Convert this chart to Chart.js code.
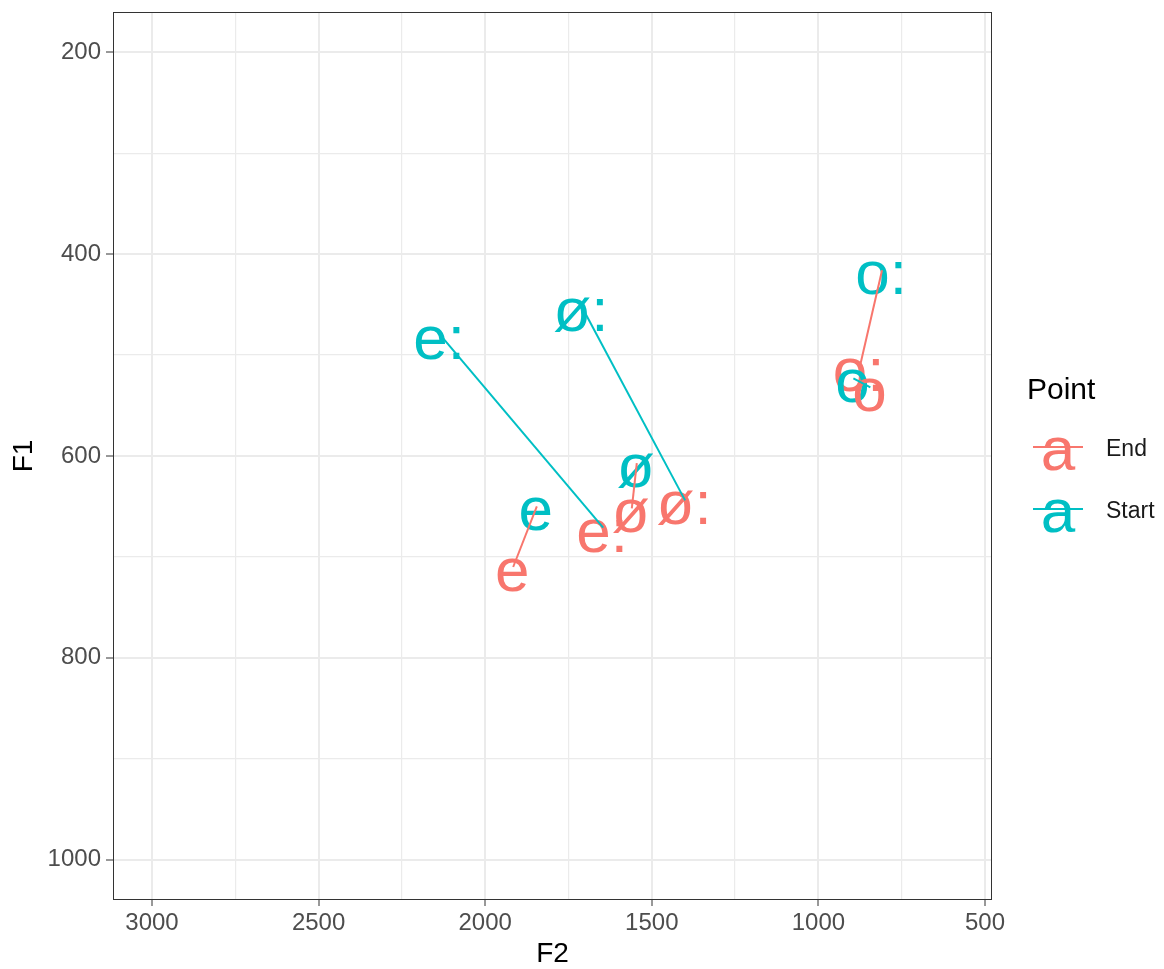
<!DOCTYPE html>
<html>
<head>
<meta charset="utf-8">
<script src="https://cdn.jsdelivr.net/npm/chart.js@4.4.1/dist/chart.umd.min.js"></script>
<style>
  html, body { margin: 0; padding: 0; background: #fff; }
  #wrap { width: 1164px; height: 969px; }
</style>
</head>
<body>
<div id="wrap"><canvas id="formants"></canvas></div>
<script>
// vowel formant trajectories, F2 on x and F1 on y (both axes reversed)
var vowels = ['e:', 'ø:', 'o:', 'e', 'ø', 'o'];
var startF2 = [2135, 1710, 809, 1845, 1545, 895];
var startF1 = [480, 452, 416, 650, 607, 523];
var endF2 = [1646, 1400, 876, 1916, 1560, 844];
var endF1 = [671, 644, 512, 710, 652, 532];
// which point comes first in each path (segment takes its colour)
var pathFirst = ['Start', 'Start', 'End', 'End', 'End', 'Start'];

var pointGroups = ['End', 'Start'];
var f2Breaks = [3000, 2500, 2000, 1500, 1000, 500];
var f2Minor = [2750, 2250, 1750, 1250, 750];
var f1Breaks = [200, 400, 600, 800, 1000];
var f1Minor = [300, 500, 700, 900];
var f2Limits = [479, 3117];
var f1Limits = [160, 1040];

var groupColours = { End: '#F8766D', Start: '#00BFC4' };
var FONT = '"Liberation Sans", Arial, sans-serif';
var labelSize = 62;

var datasets = vowels.map(function (v, i) {
  var s = { x: startF2[i], y: startF1[i], point: 'Start', label: v };
  var e = { x: endF2[i], y: endF1[i], point: 'End', label: v };
  return {
    label: v,
    data: pathFirst[i] === 'Start' ? [s, e] : [e, s],
    showLine: true,
    borderColor: groupColours[pathFirst[i]],
    borderWidth: 2,
    pointRadius: 0,
    pointHoverRadius: 0
  };
});

function allTicks(major, minor) {
  return major.concat(minor).sort(function (a, b) { return a - b; });
}

// text labels go under the paths, like geom_text before geom_path
var vowelLabels = {
  id: 'vowelLabels',
  beforeDatasetsDraw: function (chart) {
    var ctx = chart.ctx;
    ctx.save();
    ctx.font = labelSize + 'px ' + FONT;
    ctx.textAlign = 'center';
    ctx.textBaseline = 'alphabetic';
    chart.data.datasets.forEach(function (ds, i) {
      var meta = chart.getDatasetMeta(i);
      meta.data.forEach(function (pt, j) {
        var d = ds.data[j];
        ctx.fillStyle = groupColours[d.point];
        ctx.fillText(d.label, pt.x - 1, pt.y + 24);
      });
    });
    ctx.restore();
  }
};

var panelAndLegend = {
  id: 'panelAndLegend',
  afterDraw: function (chart) {
    var ctx = chart.ctx;
    var a = chart.chartArea;
    ctx.save();
    ctx.strokeStyle = '#333333';
    ctx.lineWidth = 1;
    ctx.strokeRect(a.left + 0.5, a.top + 0.5, a.right - a.left - 1, a.bottom - a.top - 1);

    // legend
    ctx.fillStyle = '#000';
    ctx.font = '30px ' + FONT;
    ctx.textAlign = 'left';
    ctx.textBaseline = 'middle';
    ctx.fillText('Point', 1027, 391);
    pointGroups.forEach(function (g, k) {
      var cy = 447 + k * 62;
      ctx.fillStyle = groupColours[g];
      ctx.font = labelSize + 'px ' + FONT;
      ctx.textAlign = 'center';
      ctx.textBaseline = 'alphabetic';
      ctx.fillText('a', 1058, cy + 23);
      ctx.strokeStyle = groupColours[g];
      ctx.lineWidth = 2;
      ctx.beginPath();
      ctx.moveTo(1033, cy);
      ctx.lineTo(1083, cy);
      ctx.stroke();
      ctx.fillStyle = '#1a1a1a';
      ctx.font = '23px ' + FONT;
      ctx.textAlign = 'left';
      ctx.textBaseline = 'middle';
      ctx.fillText(g, 1106, cy + 3);
    });
    ctx.restore();
  }
};

new Chart(document.getElementById('formants'), {
  type: 'scatter',
  data: { datasets: datasets },
  plugins: [vowelLabels, panelAndLegend],
  options: {
    responsive: true,
    maintainAspectRatio: false,
    animation: false,
    events: [],
    layout: { padding: { top: 12, right: 172, bottom: 0, left: 0 } },
    plugins: {
      legend: { display: false },
      tooltip: { enabled: false }
    },
    scales: {
      x: {
        type: 'linear',
        reverse: true,
        min: f2Limits[0],
        max: f2Limits[1],
        afterBuildTicks: function (axis) {
          axis.ticks = allTicks(f2Breaks, f2Minor).map(function (v) { return { value: v }; });
        },
        afterFit: function (axis) {
          axis.height = 69;
          axis.paddingLeft = 0;
          axis.paddingRight = 0;
        },
        ticks: {
          autoSkip: false,
          maxRotation: 0,
          padding: 3,
          color: '#4D4D4D',
          font: { family: FONT, size: 24 },
          callback: function (v) { return f2Breaks.indexOf(v) >= 0 ? String(v) : ''; }
        },
        grid: {
          color: '#EBEBEB',
          lineWidth: function (c) { return f2Breaks.indexOf(c.tick.value) >= 0 ? 2 : 1.2; },
          tickColor: function (c) { return f2Breaks.indexOf(c.tick.value) >= 0 ? '#333333' : 'rgba(0,0,0,0)'; },
          tickLength: 6,
          tickWidth: 1
        },
        border: { display: false },
        title: {
          display: true,
          text: 'F2',
          color: '#000',
          font: { family: FONT, size: 28, lineHeight: 1 },
          padding: { top: 10, bottom: 1 }
        }
      },
      y: {
        type: 'linear',
        reverse: true,
        min: f1Limits[0],
        max: f1Limits[1],
        afterBuildTicks: function (axis) {
          axis.ticks = allTicks(f1Breaks, f1Minor).map(function (v) { return { value: v }; });
        },
        afterFit: function (axis) {
          axis.width = 113;
          axis.paddingTop = 0;
          axis.paddingBottom = 0;
        },
        ticks: {
          autoSkip: false,
          padding: 5,
          color: '#4D4D4D',
          font: { family: FONT, size: 24 },
          callback: function (v) { return f1Breaks.indexOf(v) >= 0 ? String(v) : ''; }
        },
        grid: {
          color: '#EBEBEB',
          lineWidth: function (c) { return f1Breaks.indexOf(c.tick.value) >= 0 ? 2 : 1.2; },
          tickColor: function (c) { return f1Breaks.indexOf(c.tick.value) >= 0 ? '#333333' : 'rgba(0,0,0,0)'; },
          tickLength: 7,
          tickWidth: 1
        },
        border: { display: false },
        title: {
          display: true,
          text: 'F1',
          color: '#000',
          font: { family: FONT, size: 28, lineHeight: 1 },
          padding: { top: 10, bottom: 1 }
        }
      }
    }
  }
});
</script>
</body>
</html>
